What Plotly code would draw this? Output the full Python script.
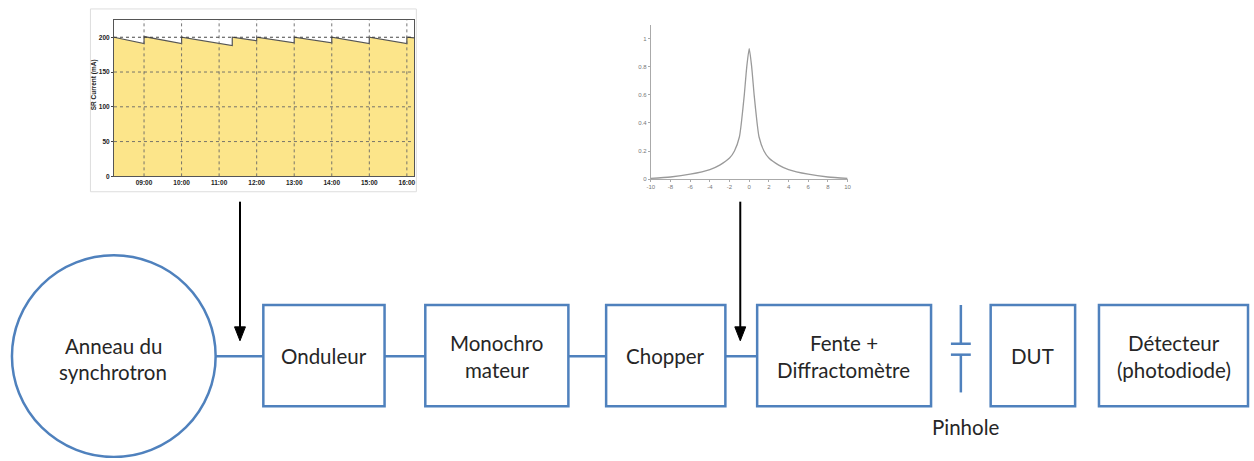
import plotly.graph_objects as go

W, H = 1254, 461

# ---- Inset 1: storage ring current (mA) vs time (hours) ----
sr_time = [8.2, 9.0, 9.0, 10.0, 10.0, 11.35, 11.35, 12.0, 12.0, 13.0, 13.0, 14.0, 14.0, 15.0, 15.0, 16.0, 16.0, 16.2]
sr_current = [200, 191, 201, 191, 200, 188, 200, 195, 200, 192, 200, 192, 200, 191, 200, 191, 200, 199]
sr_tick_vals = [9, 10, 11, 12, 13, 14, 15, 16]
sr_tick_text = ["09:00", "10:00", "11:00", "12:00", "13:00", "14:00", "15:00", "16:00"]
sr_y_ticks = [0, 50, 100, 150, 200]

# ---- Inset 2: peak profile ----
peak_x = [-10, -8, -6, -4, -3, -2, -1.5, -1.0, -0.8, -0.5, -0.25, 0, 0.25, 0.5, 0.8, 1.0, 1.5, 2, 3, 4, 6, 8, 10]
peak_y = [0.005, 0.015, 0.035, 0.068, 0.10, 0.15, 0.20, 0.30, 0.40, 0.60, 0.80, 0.93, 0.80, 0.60, 0.40, 0.30, 0.20, 0.15, 0.10, 0.068, 0.035, 0.015, 0.005]
peak_x_ticks = [-10, -8, -6, -4, -2, 0, 2, 4, 6, 8, 10]
peak_y_ticks = [0, 0.2, 0.4, 0.6, 0.8, 1]
peak_y_text = ["0", "0.2", "0.4", "0.6", "0.8", "1"]

# ---- Block diagram labels ----
ring_label = ["Anneau du", "synchrotron"]
box_labels = [["Onduleur"], ["Monochro", "mateur"], ["Chopper"], ["Fente +", "Diffractomètre"], ["DUT"], ["Détecteur", "(photodiode)"]]
pinhole_label = "Pinhole"

BLUE = "#4F81BD"
TXT = "#262626"
FONT = "Lato"
SMALL = "Liberation Sans"

fig = go.Figure()

# main canvas axis (pixel space)
fig.add_trace(go.Scatter(x=[0, W], y=[0, H], mode="markers", marker=dict(opacity=0), hoverinfo="skip", showlegend=False))

# inset 1
fig.add_trace(go.Scatter(x=sr_time, y=sr_current, mode="lines", fill="tozeroy",
                         fillcolor="#FCE58A", line=dict(color="#555555", width=1.2),
                         xaxis="x2", yaxis="y2", showlegend=False))
# inset 2
fig.add_trace(go.Scatter(x=peak_x, y=peak_y, mode="lines", line=dict(color="#9a9a9a", width=1.3, shape="spline", smoothing=0.6),
                         xaxis="x3", yaxis="y3", showlegend=False))

shapes = []
def rect(x0, y0, x1, y1, color=BLUE, w=2.5, layer="above"):
    shapes.append(dict(type="rect", xref="x", yref="y", x0=x0, y0=y0, x1=x1, y1=y1,
                       line=dict(color=color, width=w), fillcolor="rgba(0,0,0,0)", layer=layer))
def line(x0, y0, x1, y1, color=BLUE, w=2.5):
    shapes.append(dict(type="line", xref="x", yref="y", x0=x0, y0=y0, x1=x1, y1=y1,
                       line=dict(color=color, width=w)))

# inset 1 image frame
rect(87, 9, 415, 193, color="#dddddd", w=1, layer="below")

# inset 1 dotted grid drawn over the fill
for t in sr_tick_vals:
    shapes.append(dict(type="line", xref="x2", yref="y2 domain", x0=t, x1=t, y0=0, y1=1,
                       line=dict(color="#666", width=0.9, dash="dot"), layer="above"))
for v in sr_y_ticks[1:]:
    shapes.append(dict(type="line", xref="x2 domain", yref="y2", x0=0, x1=1, y0=v, y1=v,
                       line=dict(color="#333" if v == 200 else "#666", width=0.9, dash="dot"), layer="above"))

# ring
shapes.append(dict(type="circle", xref="x", yref="y", x0=8, y0=257, x1=213, y1=460,
                   line=dict(color=BLUE, width=2.5)))
# boxes
boxes = [(261, 383), (424, 568), (606, 726), (758, 933), (993, 1078), (1102, 1252)]
for x0, x1 in boxes:
    rect(x0, 307, x1, 409)
# connectors
cy = 358.5
for a, b in [(213, 261), (383, 424), (568, 606), (726, 758)]:
    line(a, cy, b, cy)
# pinhole
line(963, 307, 963, 346)
line(953, 346, 973, 346)
line(953, 357, 973, 357)
line(963, 357, 963, 395)
# arrows
for ax in [237.5, 741]:
    line(ax, 203, ax, 332, color="black", w=2)
    shapes.append(dict(type="path", xref="x", yref="y",
                       path=f"M {ax-5.5},329 L {ax+5.5},329 L {ax},343 Z",
                       fillcolor="black", line=dict(color="black", width=1)))

annotations = []
def txt(x, y, s, size=20.5):
    annotations.append(dict(x=x, y=y, xref="x", yref="y", text=s, showarrow=False,
                            font=dict(family=FONT, size=size, color=TXT), xanchor="center", yanchor="middle"))

txt(110, 348, ring_label[0]); txt(110, 374, ring_label[1])
centers = [322, 496, 666, 845, 1035, 1178]
for cx, lab in zip(centers, box_labels):
    if len(lab) == 1:
        txt(cx, 358, lab[0])
    else:
        txt(cx, 345, lab[0]); txt(cx, 372, lab[1])
txt(968, 430, pinhole_label)

# y-axis title of inset 1
annotations.append(dict(x=91.5, y=85, xref="x", yref="y", text="SR Current (mA)", textangle=-90, showarrow=False,
                        font=dict(family=SMALL, size=6.5, color="#222", weight="bold")))

fig.update_layout(
    width=W, height=H, margin=dict(l=0, r=0, t=0, b=0),
    paper_bgcolor="white", plot_bgcolor="rgba(0,0,0,0)",
    shapes=shapes, annotations=annotations, showlegend=False,
    xaxis=dict(range=[0, W], domain=[0, 1], visible=False, fixedrange=True),
    yaxis=dict(range=[H, 0], domain=[0, 1], visible=False, fixedrange=True),
    xaxis2=dict(domain=[110.7 / W, 413 / W], anchor="y2", range=[8.2, 16.2],
                tickvals=sr_tick_vals, ticktext=sr_tick_text,
                tickfont=dict(family=SMALL, size=6.5, color="#222", weight="bold"),
                showgrid=False, showline=True, linecolor="#555", mirror=True, ticks="", zeroline=False),
    yaxis2=dict(domain=[(H - 177.5) / H, (H - 20) / H], anchor="x2", range=[0, 225],
                tickvals=sr_y_ticks, tickfont=dict(family=SMALL, size=6.5, color="#222", weight="bold"),
                showgrid=False, showline=True, linecolor="#555", mirror=True, ticks="outside", ticklen=2, zeroline=False),
    xaxis3=dict(domain=[651 / W, 849 / W], anchor="y3", range=[-10, 10],
                tickvals=peak_x_ticks, ticktext=[str(v) for v in peak_x_ticks],
                tickfont=dict(family=SMALL, size=6, color="#777"),
                showgrid=False, showline=True, linecolor="#aaa", ticks="outside", ticklen=2, tickcolor="#aaa", zeroline=False),
    yaxis3=dict(domain=[(H - 180.3) / H, (H - 24.9) / H], anchor="x3", range=[0, 1.1],
                tickvals=peak_y_ticks, ticktext=peak_y_text, tickfont=dict(family=SMALL, size=6, color="#777"),
                showgrid=False, showline=True, linecolor="#aaa", ticks="outside", ticklen=2, tickcolor="#aaa", zeroline=False),
)

fig.write_html("out.html", config={"displayModeBar": False},
               post_script="document.body.style.margin='0';document.body.style.overflow='hidden';")
